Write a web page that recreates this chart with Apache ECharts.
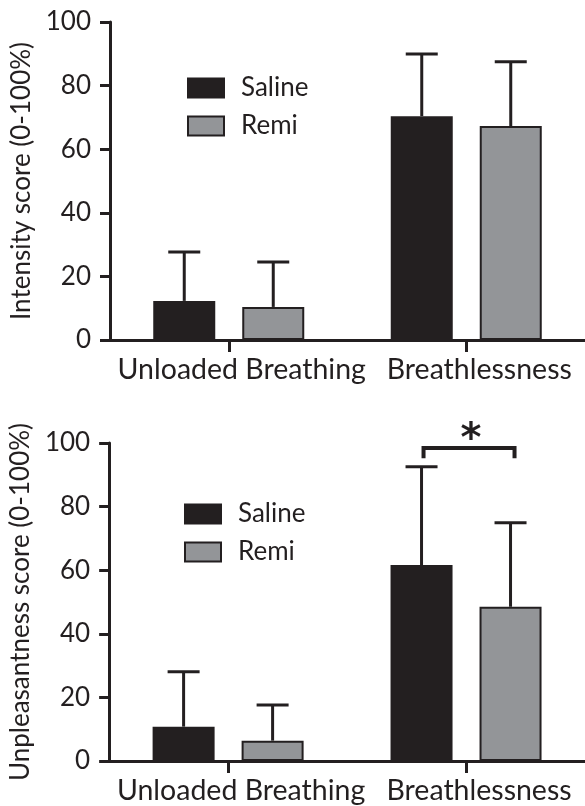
<!DOCTYPE html>
<html>
<head>
<meta charset="utf-8">
<script src="https://cdn.jsdelivr.net/npm/echarts@6/dist/echarts.min.js"></script>
<style>html,body{margin:0;padding:0;background:#fff}#c{width:585px;height:806px}</style>
</head>
<body>
<div id="c"></div>
<script>
const categories = ['Unloaded Breathing', 'Breathlessness'];
const seriesNames = ['Saline', 'Remi'];
const yTicks = [0, 20, 40, 60, 80, 100];
// Top panel: Intensity
const intensitySaline = [12.3, 70.4];
const intensitySalineErrTop = [27.7, 89.9];
const intensityRemi = [10.4, 67.3];
const intensityRemiErrTop = [24.5, 87.5];
// Bottom panel: Unpleasantness
const unpleasSaline = [10.8, 61.6];
const unpleasSalineErrTop = [28.1, 92.5];
const unpleasRemi = [6.4, 48.5];
const unpleasRemiErrTop = [17.6, 74.9];
// Significance bracket (Breathlessness, Saline vs Remi)
const sigBracket = { category: 1, level: 98.4, drop: 3.2, label: '*' };

const INK = '#231f20';
const GRAY = '#939598';
const FONT = 'Lato';
const BAR_W = 62;
const BAR_GAP = 27;
const OFF = (BAR_W + BAR_GAP) / 2;

const chart = echarts.init(document.getElementById('c'));

function yAxis(gi, name) {
  return {
    type: 'value', gridIndex: gi, min: yTicks[0], max: yTicks[yTicks.length - 1], interval: 20,
    name: name, nameLocation: 'middle', nameGap: 73,
    nameTextStyle: { fontFamily: FONT, fontSize: 26, color: INK },
    axisLine: { show: true, lineStyle: { color: INK, width: 3 } },
    axisTick: { show: true, length: 10, lineStyle: { color: INK, width: 3 } },
    axisLabel: { margin: 19, fontFamily: FONT, fontSize: 26, color: INK },
    splitLine: { show: false }
  };
}
function xAxis(gi) {
  return {
    type: 'category', gridIndex: gi, data: categories,
    axisLine: { show: true, lineStyle: { color: INK, width: 3 } },
    axisTick: { show: true, alignWithLabel: true, length: 12, lineStyle: { color: INK, width: 3 } },
    axisLabel: { interval: 0, hideOverlap: false, margin: 15, padding: [0, 0, 0, 26], fontFamily: FONT, fontSize: 28.5, color: INK }
  };
}
function barSeries(name, gi, data, color) {
  return {
    type: 'bar', name: name, xAxisIndex: gi, yAxisIndex: gi, data: data,
    barWidth: BAR_W, barGap: (BAR_GAP / BAR_W * 100) + '%',
    itemStyle: { color: color, borderColor: INK, borderWidth: 2 },
    emphasis: { disabled: true }, z: 2
  };
}
function errSeries(gi, means, tops, sign) {
  return {
    type: 'custom', xAxisIndex: gi, yAxisIndex: gi, z: 3, silent: true,
    data: means.map((m, i) => [i, m, tops[i]]),
    renderItem: function (params, api) {
      const c0 = api.coord([api.value(0), api.value(1)]);
      const c1 = api.coord([api.value(0), api.value(2)]);
      const x = c0[0] + sign * OFF;
      const st = { stroke: INK, lineWidth: 3 };
      return {
        type: 'group', children: [
          { type: 'line', shape: { x1: x, y1: c0[1], x2: x, y2: c1[1] }, style: st },
          { type: 'line', shape: { x1: x - 16, y1: c1[1], x2: x + 16, y2: c1[1] }, style: st }
        ]
      };
    }
  };
}
function sigSeries(gi) {
  return {
    type: 'custom', xAxisIndex: gi, yAxisIndex: gi, z: 4, silent: true,
    data: [[sigBracket.category, sigBracket.level, sigBracket.level - sigBracket.drop]],
    renderItem: function (params, api) {
      const top = api.coord([api.value(0), api.value(1)]);
      const bot = api.coord([api.value(0), api.value(2)]);
      const xl = top[0] - OFF + 2, xr = top[0] + OFF + 4;
      const st = { stroke: INK, lineWidth: 4, fill: null };
      return {
        type: 'group', children: [
          { type: 'polyline', shape: { points: [[xl, bot[1]], [xl, top[1]], [xr, top[1]], [xr, bot[1]]] }, style: st },
          { type: 'text', x: (xl + xr) / 2 + 2, y: top[1] + 13, style: { text: sigBracket.label, fontFamily: 'DejaVu Sans', fontWeight: 'bold', fontSize: 40, fill: INK, align: 'center', verticalAlign: 'bottom' } }
        ]
      };
    }
  };
}

const legendCommon = {
  orient: 'vertical', itemWidth: 36, itemHeight: 19, itemGap: 12,
  textStyle: { fontFamily: FONT, fontSize: 26, color: INK, padding: [0, 0, 0, 12] },
  data: seriesNames, selectedMode: false, icon: 'rect'
};

chart.setOption({
  animation: false,
  grid: [
    { left: 110, top: 22, width: 480, height: 318 },
    { left: 108, top: 443, width: 480, height: 318 }
  ],
  legend: [
    Object.assign({ left: 182, top: 70 }, legendCommon),
    Object.assign({ left: 179, top: 496 }, legendCommon)
  ],
  xAxis: [xAxis(0), xAxis(1)],
  yAxis: [yAxis(0, 'Intensity score (0-100%)'), yAxis(1, 'Unpleasantness score (0-100%)')],
  series: [
    barSeries('Saline', 0, intensitySaline, INK),
    barSeries('Remi', 0, intensityRemi, GRAY),
    errSeries(0, intensitySaline, intensitySalineErrTop, -1),
    errSeries(0, intensityRemi, intensityRemiErrTop, 1),
    barSeries('Saline', 1, unpleasSaline, INK),
    barSeries('Remi', 1, unpleasRemi, GRAY),
    errSeries(1, unpleasSaline, unpleasSalineErrTop, -1),
    errSeries(1, unpleasRemi, unpleasRemiErrTop, 1),
    sigSeries(1)
  ]
});
</script>
</body>
</html>
